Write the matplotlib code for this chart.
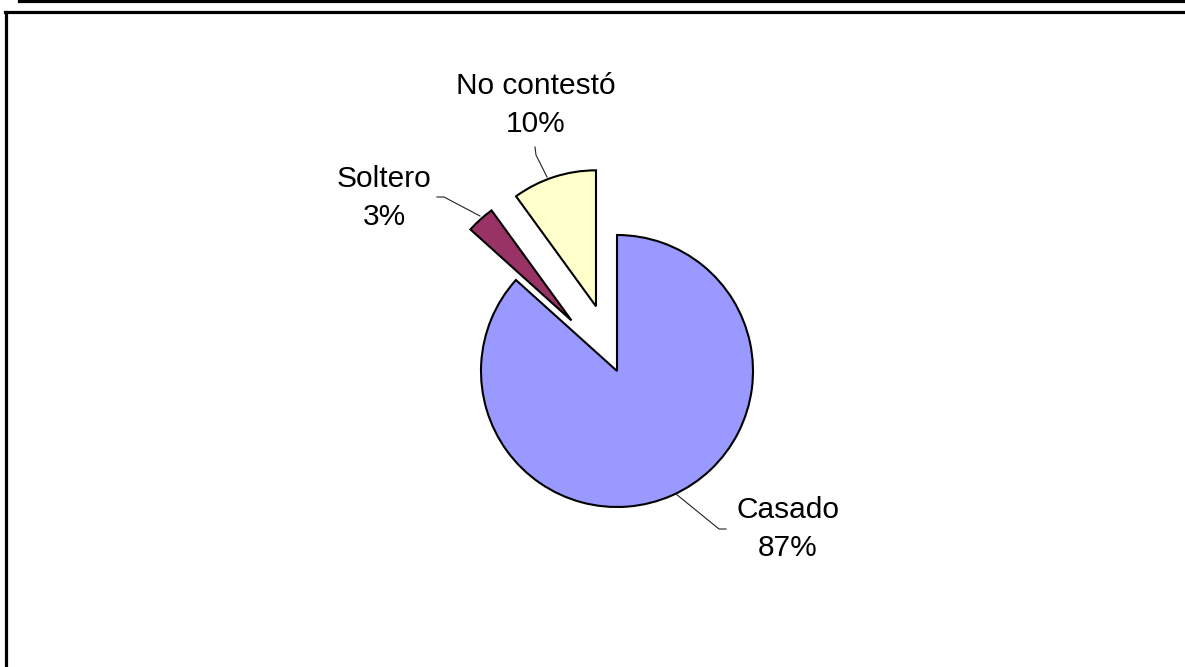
import matplotlib
matplotlib.use("Agg")
import matplotlib.pyplot as plt
from matplotlib.lines import Line2D

# ---- data ----
categories = ["Casado", "Soltero", "No contestó"]
counts = [26, 1, 3]
pct_labels = ["87%", "3%", "10%"]
colors = ["#9999FF", "#993366", "#FFFFCC"]
explode = [0.0, 0.5, 0.5]

# ---- layout (pixels in the 1185x667 canvas) ----
W, H = 1185, 667
CX, CY, R = 617, 371, 136  # pie centre and radius in pixels

def px(x, y):
    """pixel position -> data coordinates of the pie axes"""
    return (x - CX) / R, (CY - y) / R

label_pos = [(788, 529), (384, 198), (536, 105)]
leaders = [
    [(676, 494), (719, 529), (726, 529)],
    [(437, 197), (444, 197), (480, 216)],
    [(535, 147), (536, 155), (547, 177)],
]

plt.rcParams["font.family"] = ["Liberation Sans", "DejaVu Sans"]

fig = plt.figure(figsize=(W / 100, H / 100), dpi=100)
ax = fig.add_axes([0, 0, 1, 1])

ax.pie(counts, colors=colors, startangle=90, counterclock=False,
       explode=explode, radius=1, center=(0, 0),
       wedgeprops=dict(edgecolor="black", linewidth=1.5))

ax.set_xlim(-CX / R, (W - CX) / R)
ax.set_ylim(-(H - CY) / R, CY / R)
ax.set_aspect("equal")
ax.axis("off")

for cat, pct, pos, pts in zip(categories, pct_labels, label_pos, leaders):
    tx, ty = px(*pos)
    ax.text(tx, ty, f"{cat}\n{pct}", ha="center", va="center",
            fontsize=21.5, linespacing=1.42, color="black")
    xs, ys = zip(*[px(*p) for p in pts])
    ax.plot(xs, ys, color="#222222", lw=0.8)

# frame lines
fig.add_artist(Line2D([5.5 / W, 5.5 / W], [0, 1 - 11.7 / H],
                      transform=fig.transFigure, color="black", lw=2.3))
fig.add_artist(Line2D([4.5 / W, 1], [1 - 11.7 / H, 1 - 11.7 / H],
                      transform=fig.transFigure, color="black", lw=2.3))
fig.add_artist(Line2D([19 / W, 1], [1 - 1.0 / H, 1 - 1.0 / H],
                      transform=fig.transFigure, color="black", lw=2.3))

fig.savefig("out.png", dpi=100)
